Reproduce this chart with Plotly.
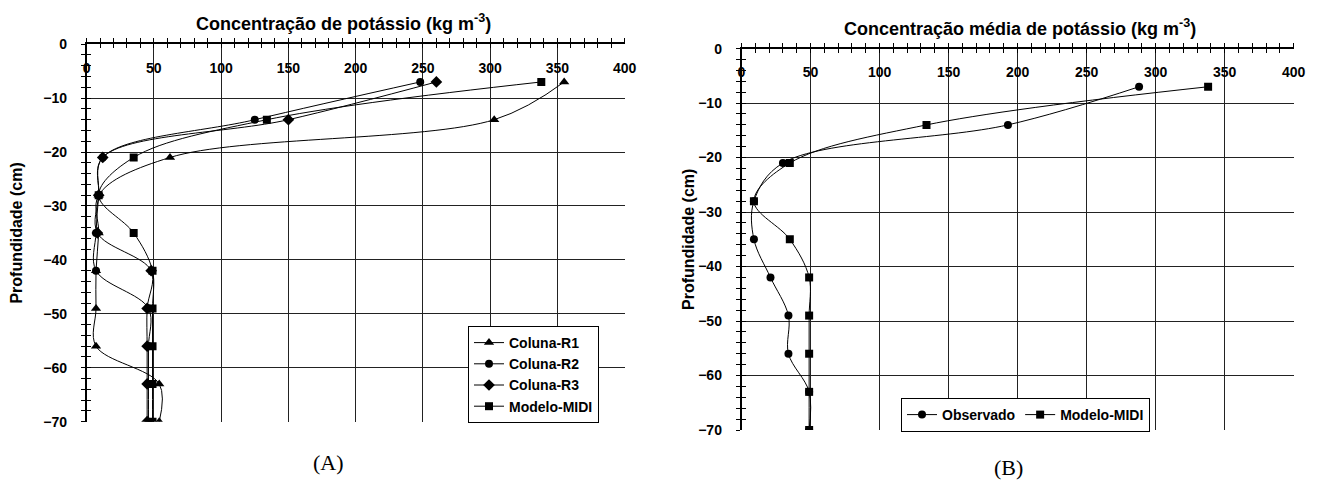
import plotly.graph_objects as go

# ---------------- data ----------------
depth = [-7, -14, -21, -28, -35, -42, -49, -56, -63, -70]

# Panel A
coluna_r1 = [355, 303, 62, 9, 9, 7, 7, 7, 54, 54]
coluna_r2 = [248, 125, 12, 9, 7, 7, 46, 46, 46, 46]
coluna_r3 = [260, 150, 12, 9, 8, 48, 45, 45, 45, 45]
modelo_a = [338, 134, 35, 9, 35, 49, 49, 49, 49, 49]

# Panel B
observado = [288, 193, 30, 9, 9, 21, 34, 34, 49, 49]
modelo_b = [338, 134, 35, 9, 35, 49, 49, 49, 49, 49]

x_ticks = [0, 50, 100, 150, 200, 250, 300, 350, 400]
y_ticks = [0, -10, -20, -30, -40, -50, -60, -70]

title_a = "Concentração de potássio (kg m<sup>-3</sup>)"
title_b = "Concentração média de potássio (kg m<sup>-3</sup>)"
y_title = "Profundidade (cm)"

# page is 1317x492; the html body has an 8px margin
OFF = 8
W, H = 1317 - 2 * OFF, 492 - 2 * OFF
FONT = "Liberation Sans"

# ---------------- layout geometry (page pixels) ----------------
A_left, A_right, A_top, A_bot = 86.6, 624.7, 44.2, 421.7
B_left, B_right, B_top, B_bot = 741.5, 1293.7, 48.6, 430.0


def px(x):
    return (x - OFF) / W


def py(y):
    return 1 - (y - OFF) / H


def xd(a, b):
    return [px(a), px(b)]


def yd(t, b):
    return [py(b), py(t)]


fig = go.Figure()

line = dict(color="black", width=1, shape="spline", smoothing=1)

series_a = [
    ("Coluna-R1", coluna_r1, "triangle-up", 9),
    ("Coluna-R2", coluna_r2, "circle", 8),
    ("Coluna-R3", coluna_r3, "diamond", 9),
    ("Modelo-MIDI", modelo_a, "square", 8),
]
for name, vals, sym, sz in series_a:
    fig.add_trace(go.Scatter(
        x=vals, y=depth, name=name, mode="lines+markers",
        line=line, marker=dict(symbol=sym, size=sz, color="black"),
        xaxis="x", yaxis="y", legend="legend"))

series_b = [
    ("Observado", observado, "circle", 8),
    ("Modelo-MIDI", modelo_b, "square", 8),
]
for name, vals, sym, sz in series_b:
    fig.add_trace(go.Scatter(
        x=vals, y=depth, name=name, mode="lines+markers",
        line=line, marker=dict(symbol=sym, size=sz, color="black"),
        xaxis="x2", yaxis="y2", legend="legend2"))

# dummy traces to show the inner half of the crossing tick marks
for xa, ya in (("x3", "y3"), ("x4", "y4")):
    fig.add_trace(go.Scatter(x=[None], y=[None], xaxis=xa, yaxis=ya,
                             showlegend=False, hoverinfo="skip"))

tickfont = dict(family=FONT, size=14, color="black", weight="bold")


def main_x(domain, anchor):
    return dict(
        domain=domain, anchor=anchor, range=[0, 400], side="top",
        tickvals=x_ticks, ticks="outside", ticklen=4, tickcolor="black", tickwidth=1,
        minor=dict(dtick=10, tick0=0, ticks="outside", ticklen=4, tickcolor="black",
                   showgrid=False),
        showline=True, linecolor="black", linewidth=1.5,
        showgrid=True, gridcolor="#222", gridwidth=1, zeroline=False,
        ticklabelposition="inside", ticklabeloverflow="allow", ticklabelstandoff=19,
        tickfont=tickfont, fixedrange=True, automargin=False)


def main_y(domain, anchor, standoff):
    return dict(
        domain=domain, anchor=anchor, range=[-70, 0],
        tickvals=y_ticks, ticks="outside", ticklen=4, tickcolor="black", tickwidth=1,
        minor=dict(dtick=2, tick0=0, ticks="outside", ticklen=4, tickcolor="black",
                   showgrid=False),
        showline=True, linecolor="black", linewidth=1.5,
        showgrid=True, gridcolor="#222", gridwidth=1, zeroline=False,
        tickfont=tickfont, ticklabelstandoff=11,
        title=dict(text=y_title, font=dict(family=FONT, size=16, color="black",
                                           weight="bold"), standoff=standoff),
        fixedrange=True, automargin=False)


def over_x(over, anchor):
    return dict(
        overlaying=over, anchor=anchor, range=[0, 400], side="top",
        tickvals=x_ticks, ticks="inside", ticklen=4, tickcolor="black",
        minor=dict(dtick=10, tick0=0, ticks="inside", ticklen=4, tickcolor="black",
                   showgrid=False),
        showticklabels=False, showgrid=False, showline=False, zeroline=False,
        fixedrange=True, automargin=False)


def over_y(over, anchor):
    return dict(
        overlaying=over, anchor=anchor, range=[-70, 0],
        tickvals=y_ticks, ticks="inside", ticklen=4, tickcolor="black",
        minor=dict(dtick=2, tick0=0, ticks="inside", ticklen=4, tickcolor="black",
                   showgrid=False),
        showticklabels=False, showgrid=False, showline=False, zeroline=False,
        fixedrange=True, automargin=False)


legfont = dict(family=FONT, size=14, color="black", weight="bold")
titlefont = dict(family=FONT, size=18, color="black", weight="bold")
labfont = dict(family="Liberation Serif", size=22, color="black")


def ann(text, x, y, font):
    return dict(text=text, x=px(x), y=py(y), xref="paper", yref="paper",
                xanchor="center", yanchor="middle", showarrow=False, font=font)


fig.update_layout(
    width=W, height=H,
    margin=dict(l=0, r=0, t=0, b=0, pad=0, autoexpand=False),
    paper_bgcolor="white", plot_bgcolor="white",
    font=dict(family=FONT, color="black"),
    xaxis=main_x(xd(A_left, A_right), "y"),
    yaxis=main_y(yd(A_top, A_bot), "x", 20),
    xaxis2=main_x(xd(B_left, B_right), "y2"),
    yaxis2=main_y(yd(B_top, B_bot), "x2", 0),
    xaxis3=over_x("x", "y3"),
    yaxis3=over_y("y", "x3"),
    xaxis4=over_x("x2", "y4"),
    yaxis4=over_y("y2", "x4"),
    legend=dict(
        x=px(468), y=py(326), xanchor="left", yanchor="top",
        bgcolor="white", bordercolor="black", borderwidth=1,
        font=legfont, tracegroupgap=0, itemwidth=30),
    legend2=dict(
        x=px(901), y=py(398), xanchor="left", yanchor="top",
        orientation="h",
        bgcolor="white", bordercolor="black", borderwidth=1,
        font=legfont, itemwidth=30),
    showlegend=True,
    annotations=[
        ann(title_a, 343, 22, titlefont),
        ann(title_b, 1020, 28, titlefont),
        ann("(A)", 328, 462, labfont),
        ann("(B)", 1008, 467, labfont),
    ],
)

fig.write_html("out.html")
